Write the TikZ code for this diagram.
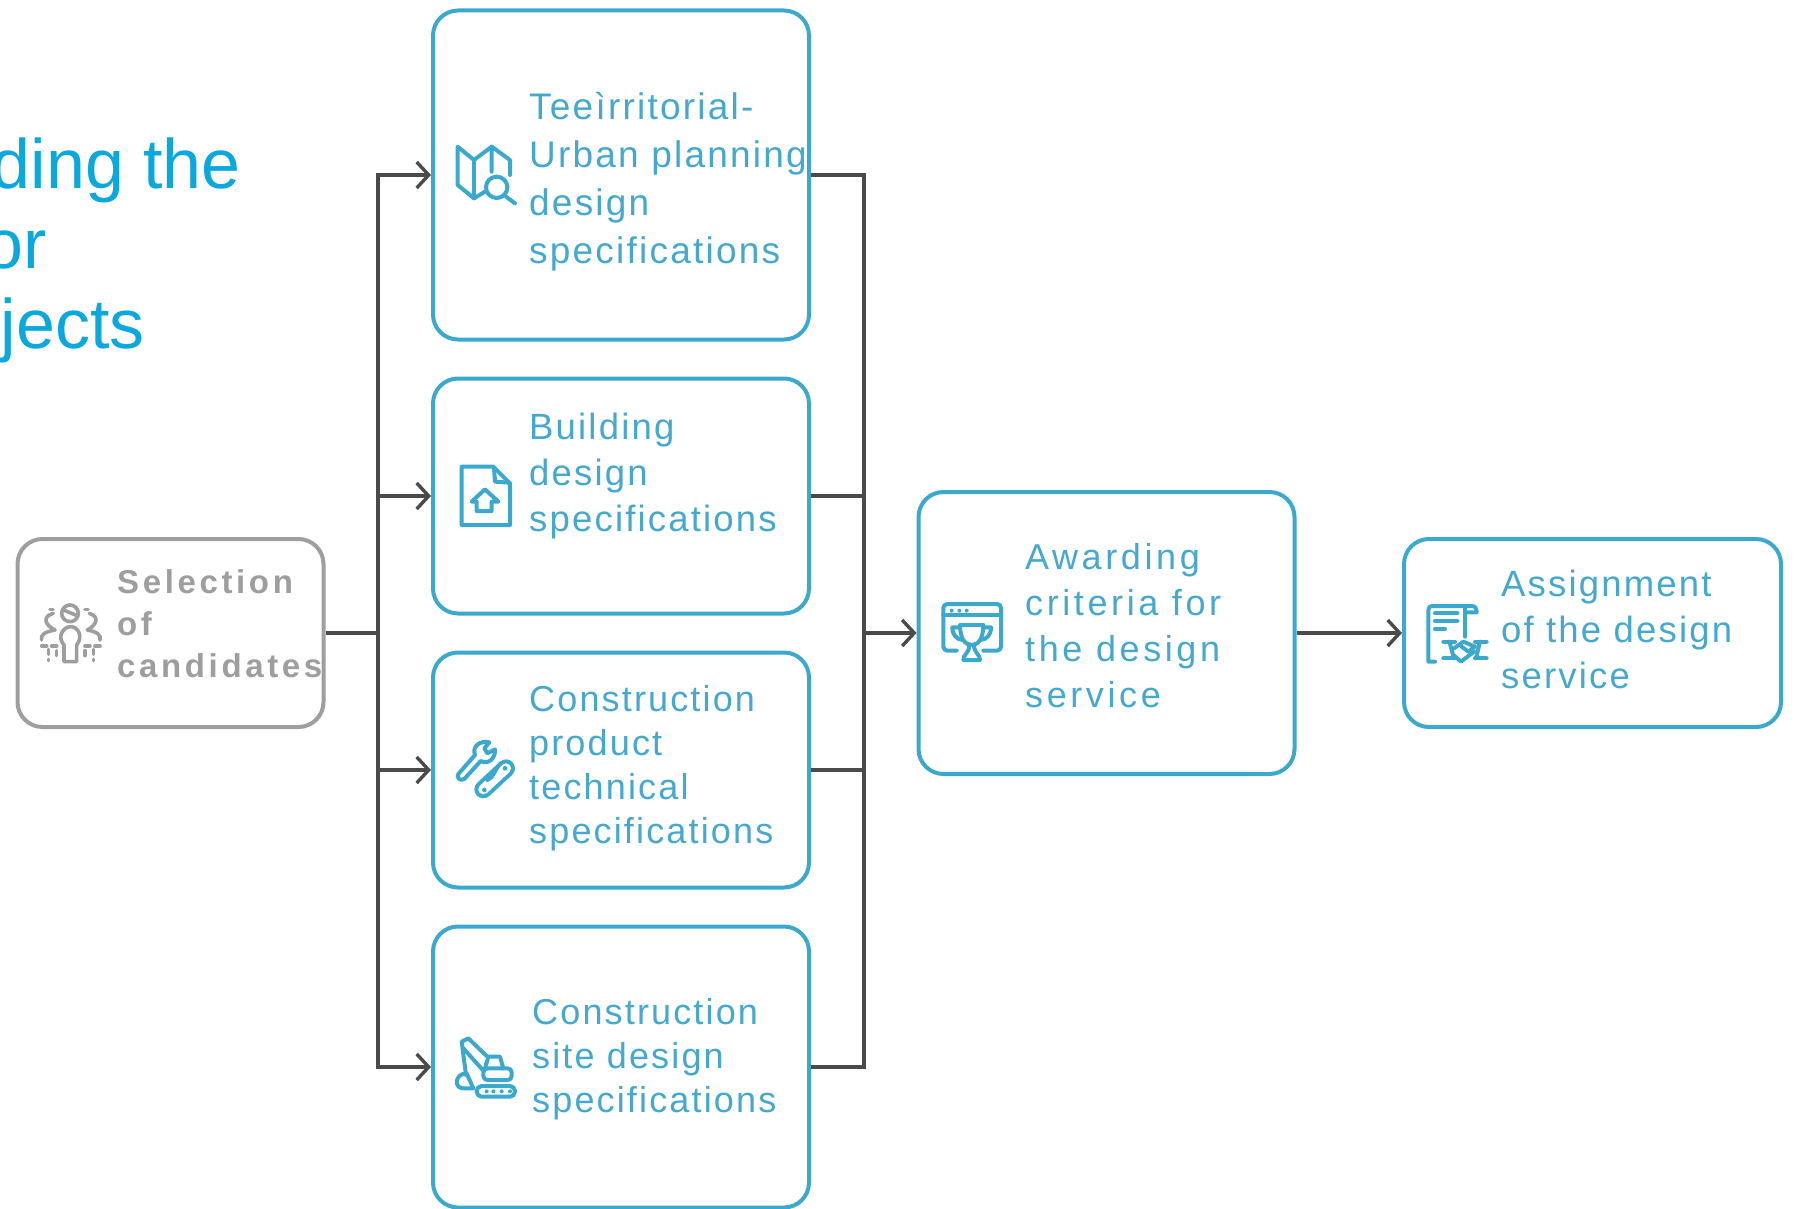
\documentclass[tikz,border=0pt]{standalone}
\usepackage{fontspec}
\usepackage{tikz}
\usetikzlibrary{arrows.meta}
\setmainfont{Liberation Sans}
\newfontfamily\boxfont[LetterSpace=6]{Liberation Sans}
\newfontfamily\widefont[LetterSpace=10]{Liberation Sans}
\newfontfamily\selfont[LetterSpace=11]{Liberation Sans Bold}
\definecolor{boxblue}{HTML}{3BA9CE}
\definecolor{textblue}{HTML}{45A9CF}
\definecolor{titleblue}{HTML}{0AA8DC}
\definecolor{selgray}{HTML}{9E9E9E}
\definecolor{linegray}{HTML}{4A4A4A}

\begin{document}
\begin{tikzpicture}
  [x=1pt, y=-1pt,
   box/.style={draw=boxblue, line width=4pt, rounded corners=25pt, fill=white, inner sep=0},
   selbox/.style={box, draw=selgray},
   boxtext/.style={text=textblue, align=left, anchor=west, inner sep=0},
   titletext/.style={text=titleblue, anchor=east, inner sep=0, font=\fontsize{70}{80}\selectfont},
   conn/.style={draw=linegray, line width=3.6pt},
   arr/.style={conn, -{Straight Barb[length=12pt,width=26pt,line width=3.4pt]}},
   icon/.style={draw=boxblue, line width=4pt, line cap=round, line join=round},
   selicon/.style={icon, draw=selgray, line width=3.6pt}]

  \useasboundingbox (0, 0) rectangle (1795, 1209);

  % title, cut by the left edge
  \node[titletext] (title1) at (241, 170) {ding the};
  \node[titletext] (title2) at (47, 250) {or};
  \node[titletext] (title3) at (145, 330) {jects};

  % boxes
  \node[selbox, minimum width=306pt, minimum height=188pt] (sel) at (170.5, 633) {};
  \node[box, minimum width=376pt, minimum height=329pt] (b1) at (621, 175) {};
  \node[box, minimum width=376pt, minimum height=235pt] (b2) at (621, 496) {};
  \node[box, minimum width=376pt, minimum height=235pt] (b3) at (621, 770) {};
  \node[box, minimum width=376pt, minimum height=281pt] (b4) at (621, 1067) {};
  \node[box, minimum width=376pt, minimum height=282pt] (award) at (1106.5, 633) {};
  \node[box, minimum width=377pt, minimum height=188pt] (assign) at (1592.5, 633) {};

  % texts
  \node[boxtext, text=selgray, font=\selfont\fontsize{33}{42}\selectfont] (selt) at (117, 624)
    {Selection\\of\\candidates};
  \node[boxtext, font=\boxfont\fontsize{37}{48}\selectfont] (b1t) at (529, 181.5)
    {Teeìrritorial-\\Urban planning\\design\\specifications};
  \node[boxtext, font=\boxfont\fontsize{36.5}{46}\selectfont] (b2t) at (529, 476)
    {Building\\design\\specifications};
  \node[boxtext, font=\boxfont\fontsize{36}{44}\selectfont] (b3t) at (529, 768)
    {Construction\\product\\technical\\specifications};
  \node[boxtext, font=\boxfont\fontsize{36}{44}\selectfont] (b4t) at (532, 1059.5)
    {Construction\\site design\\specifications};
  \node[boxtext, font=\widefont\fontsize{36}{46}\selectfont] (awardt) at (1025, 626)
    {Awarding\\criteria for\\the design\\service};
  \node[boxtext, font=\boxfont\fontsize{36.5}{46}\selectfont] (assignt) at (1501, 629)
    {Assignment\\of the design\\service};

  % connectors
  \coordinate (jl) at (378, 633);
  \coordinate (jr) at (864, 633);
  \draw[conn] (sel.east) -- (jl);
  \draw[arr] (jl) |- (b1.west);
  \draw[arr] (jl) |- (b2.west);
  \draw[arr] (jl) |- (b3.west);
  \draw[arr] (jl) |- (b4.west);
  \draw[conn] (b1.east) -| (jr);
  \draw[conn] (b2.east) -| (jr);
  \draw[conn] (b3.east) -| (jr);
  \draw[conn] (b4.east) -| (jr);
  \draw[arr] (jr) -- (award.west);
  \draw[arr] (award.east) -- (assign.west);

  % map icon
  \begin{scope}[shift={(420, 0)}, scale=1/3]
    \draw[icon] (215, 515) -- (215, 440) -- (270, 480) -- (270, 525);
    \draw[icon] (195, 575) -- (162, 595) -- (113, 555) -- (113, 440) -- (162, 480) -- (215, 440);
    \draw[icon] (162, 480) -- (162, 595);
    \draw[icon] (230, 562) circle (32);
    \draw[icon] (258, 590) -- (285, 610);
  \end{scope}

  % document icon
  \begin{scope}[shift={(430, 440)}, scale=1/3]
    \draw[icon] (95, 80) -- (190, 80) -- (240, 130) -- (240, 255) -- (95, 255) -- cycle;
    \draw[icon] (192, 85) -- (195, 125) -- (238, 128);
    \draw[icon] (125, 185) -- (165, 148) -- (205, 185) -- (185, 185) -- (185, 213)
      -- (140, 213) -- (140, 185) -- cycle;
  \end{scope}

  % wrench icon
  \begin{scope}[shift={(430, 700)}, scale=1/3]
    \draw[icon] (85, 222) -- (135, 165) .. controls (125, 140) and (150, 120) .. (178, 127)
      -- (163, 145) -- (172, 160) -- (195, 148) .. controls (197, 175) and (175, 195) .. (152, 183)
      -- (103, 237) .. controls (90, 245) and (78, 232) .. (85, 222) -- cycle;
    \draw[icon, double=white, double distance=10pt] (160, 268) -- (228, 205);
    \fill[boxblue] (163, 270) circle (7) (225, 205) circle (7);
    \draw[icon] (172, 240) .. controls (190, 235) and (195, 205) .. (212, 190);
  \end{scope}

  % excavator icon
  \begin{scope}[shift={(430, 1000)}, scale=1/3]
    \draw[icon] (108, 225) -- (95, 125) -- (115, 115) -- (170, 168);
    \draw[icon] (100, 145) -- (160, 212);
    \draw[icon] (110, 220) .. controls (75, 220) and (70, 265) .. (100, 265) -- (130, 265) -- cycle;
    \draw[icon] (165, 205) -- (175, 170) -- (210, 170) -- (220, 205);
    \draw[icon, rounded corners=4pt] (160, 205) rectangle (245, 240);
    \draw[icon, rounded corners=5pt] (140, 258) rectangle (255, 290);
    \foreach \dx in {170, 190, 215, 240}
      \fill[boxblue] (\dx, 274) circle (6);
  \end{scope}

  % trophy icon
  \begin{scope}[shift={(920, 580)}, scale=1/3]
    \draw[icon, rounded corners=4pt] (110, 212) -- (70, 212) -- (70, 72) -- (243, 72) -- (243, 212) -- (190, 212);
    \draw[icon] (70, 105) -- (243, 105);
    \foreach \dx in {95, 118, 140}
      \fill[boxblue] (\dx, 92) circle (6);
    \draw[icon] (120, 135) -- (190, 135) .. controls (190, 175) and (175, 195) .. (155, 195)
      .. controls (135, 195) and (120, 175) .. (120, 135) -- cycle;
    \draw[icon] (120, 142) -- (97, 142) .. controls (97, 165) and (110, 178) .. (128, 180);
    \draw[icon] (190, 142) -- (213, 142) .. controls (213, 165) and (200, 178) .. (182, 180);
    \draw[icon] (148, 195) .. controls (148, 220) and (130, 222) .. (130, 240) -- (180, 240)
      .. controls (180, 222) and (162, 220) .. (162, 195);
  \end{scope}

  % contract icon
  \begin{scope}[shift={(1400, 530)}, scale=1/3]
    \draw[icon] (105, 395) -- (85, 395) -- (85, 240) .. controls (85, 232) and (90, 228) .. (100, 228)
      -- (215, 228) .. controls (225, 228) and (230, 235) .. (230, 247) -- (197, 247);
    \draw[icon] (195, 235) -- (195, 320);
    \draw[icon] (105, 250) -- (172, 250) (105, 273) -- (172, 273) (105, 297) -- (135, 297);
    \draw[icon] (130, 335) -- (165, 335) (130, 385) -- (160, 385);
    \draw[icon] (260, 335) -- (225, 335) (260, 385) -- (225, 385);
    \draw[icon] (148, 335) -- (162, 385) (240, 335) -- (228, 385);
    \draw[icon] (162, 355) -- (190, 335) -- (225, 350) -- (205, 365) -- (185, 350);
    \draw[icon] (160, 375) -- (183, 395) -- (222, 365);
  \end{scope}

  % people icon
  \begin{scope}[shift={(0, 520)}, scale=1/3]
    \draw[selicon] (210, 280) circle (25);
    \draw[selicon] (190, 270) -- (232, 287);
    \draw[selicon] (192, 425) -- (192, 375) .. controls (170, 350) and (190, 320) .. (212, 320)
      .. controls (235, 320) and (250, 350) .. (230, 375) -- (230, 425) -- cycle;
    \draw[selicon] (160, 280) .. controls (125, 290) and (135, 315) .. (165, 330)
      .. controls (135, 335) and (120, 345) .. (125, 360);
    \draw[selicon] (268, 280) .. controls (300, 290) and (290, 315) .. (262, 330)
      .. controls (290, 335) and (305, 345) .. (300, 360);
    \draw[selicon, dash pattern=on 5pt off 5pt] (125, 378) -- (170, 378) (145, 388) -- (145, 422)
      (170, 392) -- (170, 422) (255, 378) -- (300, 378) (280, 388) -- (280, 422) (255, 392) -- (255, 422);
    \draw[selicon, dash pattern=on 3pt off 6pt] (150, 268) -- (165, 268) (255, 268) -- (275, 268);
  \end{scope}

\end{tikzpicture}
\end{document}
